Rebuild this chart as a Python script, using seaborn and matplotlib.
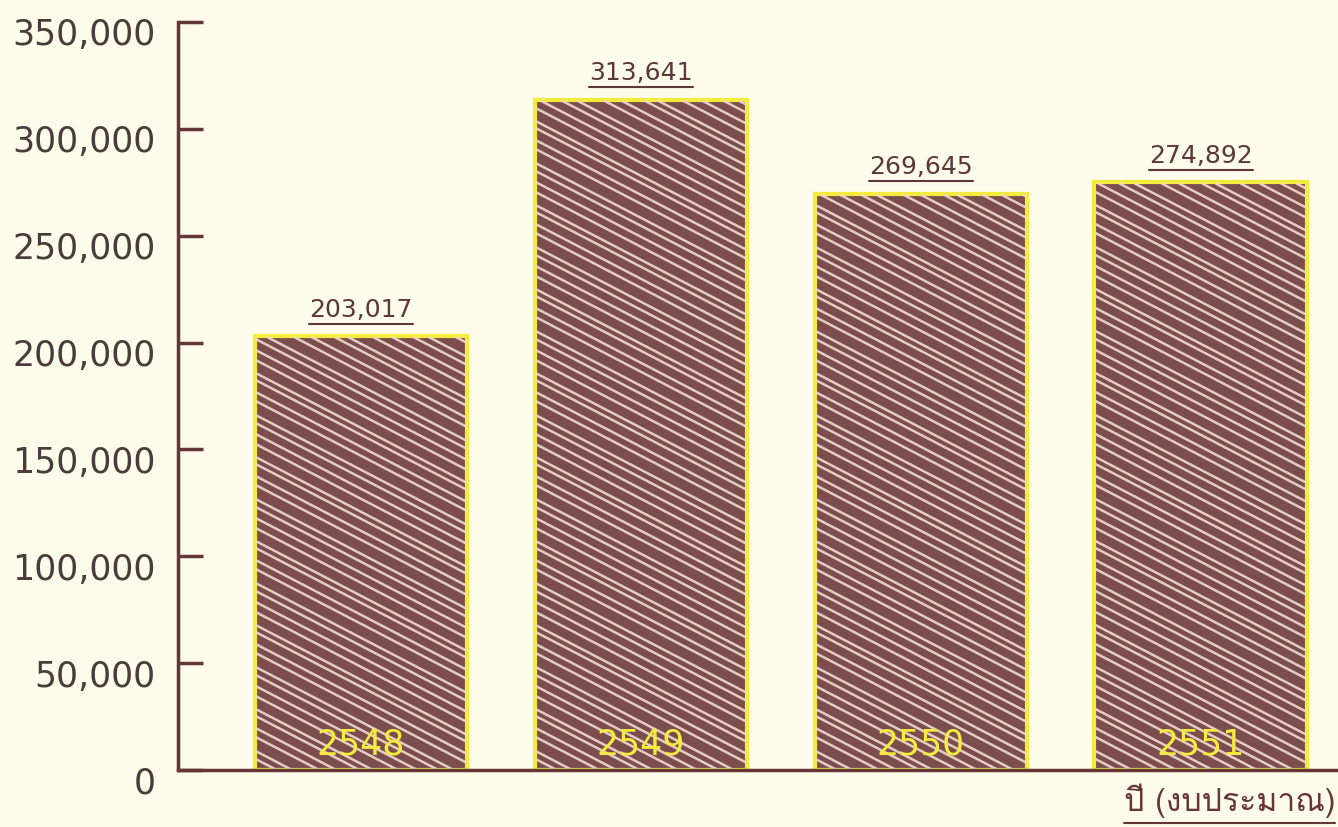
import numpy as np
import pandas as pd
import matplotlib
matplotlib.use("Agg")
import matplotlib.pyplot as plt
import matplotlib.transforms as mtransforms
from matplotlib.lines import Line2D
from matplotlib.collections import LineCollection
from matplotlib import font_manager
from matplotlib.ft2font import FT2Font
import seaborn as sns

# Budget per fiscal year
years = ["2548", "2549", "2550", "2551"]
values = [203017, 313641, 269645, 274892]
y_ticks = [0, 50000, 100000, 150000, 200000, 250000, 300000, 350000]
x_title = "ปี (งบประมาณ)"

BG = "#fdfbe9"
BROWN = "#7b4d4d"
STROKE = "#f1dbcf"
YELLOW = "#f4ec3c"
AXIS = "#663636"
TICKTXT = "#4a3c3c"
LABEL = "#5c3838"


def font_with(ch):
    """Return the name of an installed font that has a glyph for ch."""
    for f in font_manager.fontManager.ttflist:
        try:
            if ord(ch) in FT2Font(f.fname).get_charmap():
                return f.name
        except Exception:
            continue
    return None


thai_font = font_with("ป")

sns.set_theme(style="white")
plt.rcParams["font.family"] = ["DejaVu Sans"]

df = pd.DataFrame({"year": years, "value": values})

fig = plt.figure(figsize=(13.38, 8.28), dpi=100, facecolor=BG)
ax = fig.add_axes([0.133, 0.0688, 0.867, 0.9035])
ax.set_facecolor(BG)

# brown fill
sns.barplot(data=df, x="year", y="value", ax=ax, color=BROWN, saturation=1,
            width=0.76, linewidth=0, errorbar=None)
fill_patches = list(ax.patches)
# yellow outline on top
sns.barplot(data=df, x="year", y="value", ax=ax, color=YELLOW, saturation=1,
            width=0.76, fill=False, linewidth=3, errorbar=None)

ax.set_xlim(-0.654, 3.49)
ax.set_ylim(0, 350000)
ax.set_yticks(y_ticks)
ax.set_yticklabels([f"{v:,}" for v in y_ticks])
ax.set_xticks([])
ax.set_xlabel("")
ax.set_ylabel("")

for side in ["top", "right"]:
    ax.spines[side].set_visible(False)
for side in ["left", "bottom"]:
    ax.spines[side].set_color(AXIS)
    ax.spines[side].set_linewidth(2.5)
ax.spines["bottom"].set_zorder(5)

ax.tick_params(axis="y", left=True, direction="in", length=18, width=2.5, color=AXIS,
               labelsize=25, labelcolor=TICKTXT, pad=16)
shift = mtransforms.ScaledTranslation(0, -9 / 100, fig.dpi_scale_trans)
for lbl in ax.get_yticklabels():
    lbl.set_transform(lbl.get_transform() + shift)

# value labels above bars and year labels inside bars
value_texts = []
for i, v in enumerate(values):
    t = ax.annotate(f"{v:,}", xy=(i, v), xytext=(0, 11), textcoords="offset points",
                    ha="center", va="bottom", fontsize=18, color=LABEL)
    value_texts.append(t)
    ax.annotate(years[i], xy=(i, 0), xytext=(0, 19), textcoords="offset points",
                ha="center", va="center", fontsize=25, color=YELLOW, zorder=6)

fam = [thai_font, "DejaVu Sans"] if thai_font else ["DejaVu Sans"]
xt = fig.text(0.998, 0.02, x_title, ha="right", va="baseline", fontsize=23,
              color=AXIS, family=fam)

fig.canvas.draw()
renderer = fig.canvas.get_renderer()

# shallow diagonal pen strokes inside each bar, trimmed to the bar outline
gaps = [11, 8, 14, 9, 12, 7, 13, 10]
slope = 0.52
for p in fill_patches:
    bb = p.get_window_extent(renderer)
    bx0, bx1, by0, by1 = bb.x0 + 1, bb.x1 - 1, bb.y0, bb.y1 - 1
    segs = []
    ys = by0
    k = 0
    while ys < by1 + slope * (bx1 - bx0):
        xa = max(bx0, bx0 + (ys - by1) / slope)
        xb = min(bx1, bx0 + (ys - by0) / slope)
        if xb > xa:
            segs.append([(xa, ys - slope * (xa - bx0)), (xb, ys - slope * (xb - bx0))])
        ys += gaps[k % len(gaps)]
        k += 1
    lc = LineCollection(segs, colors=STROKE, linewidths=1.8, alpha=0.9,
                        transform=mtransforms.IdentityTransform(), zorder=p.get_zorder() + 0.1)
    ax.add_collection(lc, autolim=False)

# underline the value labels and the axis title
inv = fig.transFigure.inverted()
for t, gap in [(tt, 3) for tt in value_texts] + [(xt, 6)]:
    bb = t.get_window_extent(renderer)
    (x0, y0), (x1, _) = inv.transform([(bb.x0, bb.y0 - gap), (bb.x1, bb.y0 - gap)])
    fig.add_artist(Line2D([x0, x1], [y0, y0], transform=fig.transFigure,
                          color=t.get_color(), linewidth=1.5))

fig.savefig("out.png", dpi=100, facecolor=BG)
